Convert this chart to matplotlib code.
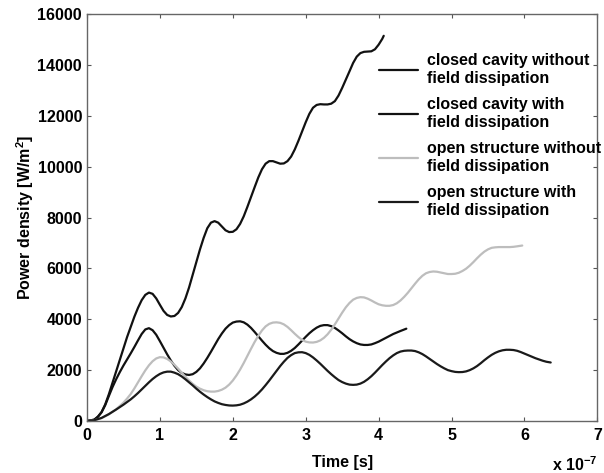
import numpy as np
import matplotlib
matplotlib.use('Agg')
import matplotlib.pyplot as plt

plt.rcParams['font.family'] = ['Liberation Sans', 'DejaVu Sans']
plt.rcParams['font.weight'] = 'bold'
plt.rcParams['mathtext.fontset'] = 'custom'
plt.rcParams['mathtext.bf'] = 'Liberation Sans:bold'
plt.rcParams['mathtext.rm'] = 'Liberation Sans:bold'
plt.rcParams['mathtext.default'] = 'bf'

# (time [1e-7 s], power density [W/m^2])
cc_nodiss = [(0, 0), (0.1, 50), (0.15, 170), (0.2, 350), (0.25, 650), (0.3, 1050), (0.35, 1500),
             (0.4, 1950), (0.45, 2400), (0.5, 2850), (0.55, 3300), (0.6, 3700), (0.65, 4100),
             (0.7, 4450), (0.75, 4750), (0.8, 4960), (0.85, 5050), (0.9, 5000), (0.95, 4820),
             (1.0, 4570), (1.05, 4330), (1.1, 4170), (1.15, 4110), (1.2, 4130), (1.25, 4250),
             (1.3, 4480), (1.35, 4820), (1.4, 5250), (1.45, 5750), (1.5, 6250), (1.55, 6750),
             (1.6, 7200), (1.65, 7580), (1.7, 7800), (1.75, 7860), (1.8, 7800), (1.85, 7650),
             (1.9, 7500), (1.95, 7430), (2.0, 7440), (2.05, 7540), (2.1, 7750), (2.15, 8050),
             (2.2, 8420), (2.3, 9200), (2.35, 9580), (2.4, 9900), (2.45, 10120), (2.5, 10220),
             (2.55, 10220), (2.6, 10170), (2.65, 10120), (2.7, 10130), (2.75, 10220),
             (2.8, 10400), (2.85, 10680), (2.9, 11020), (3.0, 11750), (3.05, 12080),
             (3.1, 12320), (3.15, 12430), (3.2, 12460), (3.25, 12450), (3.3, 12450),
             (3.35, 12480), (3.4, 12580), (3.45, 12800), (3.5, 13100), (3.6, 13750),
             (3.65, 14080), (3.7, 14330), (3.75, 14470), (3.8, 14520), (3.85, 14530),
             (3.9, 14540), (3.95, 14620), (4.0, 14800), (4.05, 15030), (4.07, 15150)]

cc_diss = [(0, 0), (0.1, 50), (0.15, 165), (0.2, 340), (0.25, 620), (0.3, 980), (0.35, 1330),
           (0.4, 1640), (0.45, 1920), (0.5, 2180), (0.55, 2420), (0.6, 2660), (0.65, 2910),
           (0.7, 3170), (0.75, 3420), (0.8, 3600), (0.85, 3650), (0.9, 3570), (0.95, 3390),
           (1.0, 3140), (1.05, 2880), (1.1, 2620), (1.15, 2380), (1.2, 2170), (1.25, 2000),
           (1.3, 1890), (1.35, 1830), (1.4, 1810), (1.45, 1840), (1.5, 1930), (1.55, 2070),
           (1.6, 2260), (1.65, 2480), (1.7, 2720), (1.75, 2970), (1.8, 3220), (1.85, 3440),
           (1.9, 3630), (1.95, 3770), (2.0, 3870), (2.05, 3910), (2.1, 3920), (2.15, 3880),
           (2.2, 3790), (2.25, 3660), (2.3, 3500), (2.35, 3330), (2.4, 3160), (2.45, 3000),
           (2.5, 2860), (2.55, 2750), (2.6, 2680), (2.65, 2640), (2.7, 2640), (2.75, 2680),
           (2.8, 2760), (2.85, 2870), (2.9, 3010), (2.95, 3160), (3.0, 3310), (3.05, 3450),
           (3.1, 3570), (3.15, 3670), (3.2, 3740), (3.25, 3770), (3.3, 3770), (3.35, 3730),
           (3.4, 3660), (3.45, 3560), (3.5, 3450), (3.55, 3330), (3.6, 3220), (3.65, 3130),
           (3.7, 3060), (3.75, 3010), (3.8, 2990), (3.85, 2990), (3.9, 3010), (3.95, 3060),
           (4.0, 3120), (4.1, 3270), (4.2, 3420), (4.3, 3540), (4.38, 3630)]

open_nodiss = [(0, 0), (0.1, 25), (0.2, 110), (0.3, 260), (0.4, 460), (0.5, 720), (0.55, 880),
               (0.6, 1060), (0.65, 1280), (0.7, 1520), (0.75, 1760), (0.8, 1990), (0.85, 2190),
               (0.9, 2350), (0.95, 2460), (1.0, 2510), (1.05, 2500), (1.1, 2440), (1.15, 2340),
               (1.2, 2210), (1.25, 2060), (1.3, 1900), (1.35, 1740), (1.4, 1590), (1.45, 1460),
               (1.5, 1350), (1.55, 1270), (1.6, 1210), (1.65, 1170), (1.7, 1155), (1.75, 1155),
               (1.8, 1180), (1.85, 1230), (1.9, 1310), (1.95, 1430), (2.0, 1590), (2.05, 1790),
               (2.1, 2020), (2.15, 2280), (2.2, 2560), (2.25, 2840), (2.3, 3110), (2.35, 3350),
               (2.4, 3560), (2.45, 3720), (2.5, 3820), (2.55, 3870), (2.6, 3880), (2.65, 3860),
               (2.7, 3800), (2.75, 3700), (2.8, 3570), (2.85, 3430), (2.9, 3300), (2.95, 3190),
               (3.0, 3120), (3.05, 3090), (3.1, 3085), (3.15, 3110), (3.2, 3170), (3.25, 3270),
               (3.3, 3410), (3.35, 3590), (3.4, 3800), (3.45, 4030), (3.5, 4260), (3.55, 4470),
               (3.6, 4640), (3.65, 4770), (3.7, 4840), (3.75, 4870), (3.8, 4860), (3.85, 4810),
               (3.9, 4740), (3.95, 4660), (4.0, 4590), (4.05, 4550), (4.1, 4530), (4.15, 4530),
               (4.2, 4560), (4.25, 4630), (4.3, 4740), (4.35, 4880), (4.4, 5040), (4.45, 5220),
               (4.5, 5400), (4.55, 5570), (4.6, 5710), (4.65, 5810), (4.7, 5860), (4.75, 5880),
               (4.8, 5870), (4.85, 5840), (4.9, 5810), (4.95, 5780), (5.0, 5780), (5.05, 5790),
               (5.1, 5830), (5.15, 5900), (5.2, 5990), (5.25, 6110), (5.3, 6250), (5.35, 6400),
               (5.4, 6540), (5.45, 6660), (5.5, 6750), (5.55, 6810), (5.6, 6830), (5.65, 6840),
               (5.7, 6840), (5.75, 6840), (5.8, 6840), (5.85, 6850), (5.9, 6870), (5.97, 6900)]

open_diss = [(0, 0), (0.1, 30), (0.2, 120), (0.3, 270), (0.4, 450), (0.5, 640), (0.6, 850),
             (0.65, 970), (0.7, 1100), (0.75, 1240), (0.8, 1380), (0.85, 1520), (0.9, 1650),
             (0.95, 1760), (1.0, 1850), (1.05, 1910), (1.1, 1940), (1.15, 1940), (1.2, 1900),
             (1.25, 1840), (1.3, 1750), (1.35, 1640), (1.4, 1520), (1.45, 1400), (1.5, 1270),
             (1.55, 1150), (1.6, 1040), (1.65, 940), (1.7, 850), (1.75, 770), (1.8, 710),
             (1.85, 660), (1.9, 630), (1.95, 610), (2.0, 605), (2.05, 615), (2.1, 640),
             (2.15, 690), (2.2, 760), (2.25, 850), (2.3, 960), (2.35, 1090), (2.4, 1240),
             (2.45, 1410), (2.5, 1590), (2.55, 1780), (2.6, 1970), (2.65, 2160), (2.7, 2330),
             (2.75, 2480), (2.8, 2590), (2.85, 2670), (2.9, 2700), (2.95, 2705), (3.0, 2670),
             (3.05, 2600), (3.1, 2500), (3.15, 2380), (3.2, 2250), (3.25, 2110), (3.3, 1970),
             (3.35, 1840), (3.4, 1720), (3.45, 1610), (3.5, 1530), (3.55, 1470), (3.6, 1430),
             (3.65, 1420), (3.7, 1430), (3.75, 1470), (3.8, 1540), (3.85, 1640), (3.9, 1760),
             (3.95, 1900), (4.0, 2050), (4.05, 2200), (4.1, 2340), (4.15, 2470), (4.2, 2580),
             (4.25, 2670), (4.3, 2730), (4.35, 2760), (4.4, 2770), (4.45, 2770), (4.5, 2750),
             (4.55, 2700), (4.6, 2630), (4.65, 2540), (4.7, 2440), (4.75, 2340), (4.8, 2240),
             (4.85, 2150), (4.9, 2070), (4.95, 2000), (5.0, 1960), (5.05, 1930), (5.1, 1920),
             (5.15, 1925), (5.2, 1950), (5.25, 2000), (5.3, 2070), (5.35, 2160), (5.4, 2270),
             (5.45, 2390), (5.5, 2500), (5.55, 2600), (5.6, 2680), (5.65, 2740), (5.7, 2780),
             (5.75, 2800), (5.8, 2800), (5.85, 2790), (5.9, 2760), (5.95, 2710), (6.0, 2650),
             (6.05, 2590), (6.1, 2530), (6.15, 2470), (6.2, 2420), (6.25, 2370), (6.3, 2330),
             (6.36, 2300)]

labels = ['closed cavity without\nfield dissipation',
          'closed cavity with\nfield dissipation',
          'open structure without\nfield dissipation',
          'open structure with\nfield dissipation']
colors = ['#111111', '#111111', '#bdbdbd', '#1a1a1a']

fig = plt.figure(figsize=(6.04, 4.73), dpi=100)
ax = fig.add_axes([0.144, 0.110, 0.845, 0.860])

for series, lab, col in zip([cc_nodiss, cc_diss, open_nodiss, open_diss], labels, colors):
    arr = np.array(series)
    ax.plot(arr[:, 0], arr[:, 1], color=col, lw=1.6, label=lab,
            solid_joinstyle='round', solid_capstyle='round')

ax.set_xlim(0, 7)
ax.set_ylim(0, 16000)
ax.set_xticks(range(0, 8))
ax.set_yticks(range(0, 16001, 2000))
ax.tick_params(direction='in', length=3, width=0.8, color='#555555', labelsize=11.5,
               top=True, right=True)
ax.tick_params(axis='x', pad=5)
for s in ax.spines.values():
    s.set_color('#666666')
    s.set_linewidth(1.0)

ax.set_xlabel('Time [s]', fontsize=11.5, fontweight='bold', labelpad=9)
ax.set_ylabel('Power density [W/m$^2$]', fontsize=11.5, fontweight='bold', labelpad=1)
ax.text(1.0, -0.085, 'x 10$^{-7}$', transform=ax.transAxes, ha='right', va='top',
        fontsize=11.5, fontweight='bold')

leg = ax.legend(loc='upper left', bbox_to_anchor=(0.573, 0.905), frameon=False,
                fontsize=11.5, handlelength=2.4, handletextpad=0.6, labelspacing=0.65,
                borderpad=0, borderaxespad=0)
for txt in leg.get_texts():
    txt.set_linespacing(1.3)

fig.savefig('out.png', dpi=100)
